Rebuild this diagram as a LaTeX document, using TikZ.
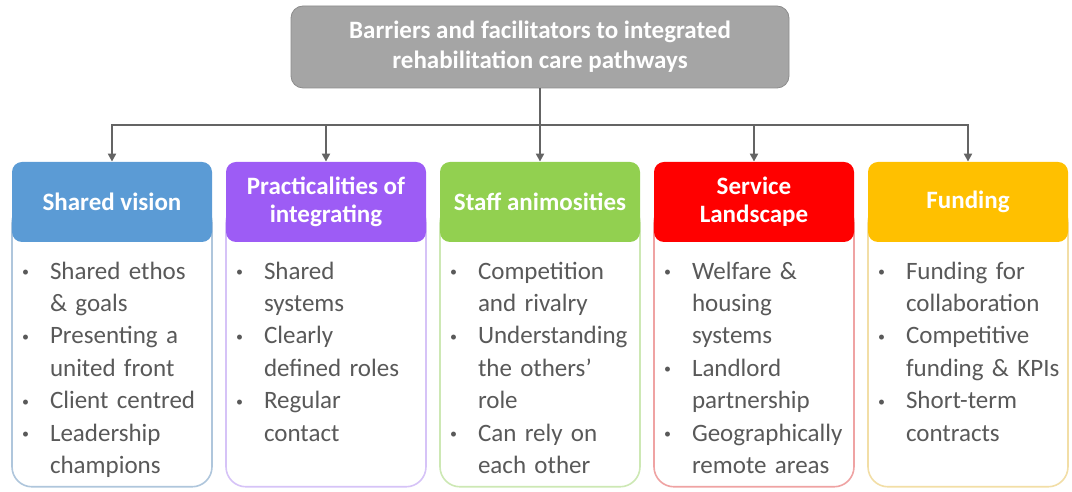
\documentclass[tikz,border=0pt]{standalone}
\usepackage{fontspec}
\setmainfont{Carlito}
\usepackage{xcolor}
\usepackage{tikz}
\usetikzlibrary{arrows.meta, trees, backgrounds}

\definecolor{rootgray}{HTML}{A5A5A5}
\definecolor{rootline}{HTML}{8C8C8C}
\definecolor{linkgray}{HTML}{646464}
\definecolor{txtgray}{HTML}{595959}
\definecolor{visionblue}{HTML}{5B9BD5}
\definecolor{visionline}{HTML}{AFC6DC}
\definecolor{practpurple}{HTML}{9D5CF5}
\definecolor{practline}{HTML}{D6C3F7}
\definecolor{staffgreen}{HTML}{92D050}
\definecolor{staffline}{HTML}{CDE8B4}
\definecolor{servred}{HTML}{FF0000}
\definecolor{servline}{HTML}{EFA3A3}
\definecolor{fundorange}{HTML}{FFC000}
\definecolor{fundline}{HTML}{F2DEA6}

\newcommand{\bpt}[1]{\par\noindent\hangindent=14pt\hangafter=1\makebox[14pt][l]{\raisebox{1.3pt}{\fontsize{7}{7}\selectfont\textbullet}}#1\par}

\begin{document}
\begin{tikzpicture}[
      x=0.5pt, y=0.5pt,
      level distance=77.5pt,
      level 1/.style={sibling distance=107pt},
      edge from parent/.style={draw=linkgray, line width=1pt, -{Triangle[length=4pt, width=4pt]}},
      edge from parent path={(\tikzparentnode.south) -- ++(0,-37) -| (\tikzchildnode.north)},
      title/.style={draw=rootline, fill=rootgray, rounded corners=6pt, minimum width=249pt,
        minimum height=41pt, text=white, align=center, font=\bfseries\fontsize{12.5}{15}\selectfont},
      head/.style={rounded corners=5pt, minimum width=100pt, minimum height=40pt, inner sep=2pt,
        text=white, align=center, font=\bfseries\fontsize{12.5}{14}\selectfont},
      bodybox/.style={fill=white, line width=0.8pt, rounded corners=10pt, minimum width=100pt,
        minimum height=142pt, anchor=north},
      items/.style={text width=95pt, inner sep=0pt, text=txtgray, anchor=north west,
        execute at begin node=\raggedright, font=\fontsize{12.5}{16.2}\selectfont}
    ]
      \useasboundingbox (0,0) rectangle (1072,492);

      \node (top) [title] at (540,445) {Barriers and facilitators to integrated\\rehabilitation care pathways}
        child {node (h1) [head, fill=visionblue] {Shared vision}}
        child {node (h2) [head, fill=practpurple] {Practicalities of\\integrating}}
        child {node (h3) [head, fill=staffgreen] {Staff animosities}}
        child {node (h4) [head, fill=servred] {Service\\Landscape}}
        child {node (h5) [head, fill=fundorange] {Funding}};

      % frames behind the headers
      \begin{scope}[on background layer]
        \node (b1) [bodybox, draw=visionline] at (h1.center) {};
        \node (b2) [bodybox, draw=practline] at (h2.center) {};
        \node (b3) [bodybox, draw=staffline] at (h3.center) {};
        \node (b4) [bodybox, draw=servline] at (h4.center) {};
        \node (b5) [bodybox, draw=fundline] at (h5.center) {};
      \end{scope}

      \node (l1) [items] at ([shift={(5pt,-2pt)}]h1.south west)
        {\bpt{Shared ethos\newline\& goals}\bpt{Presenting a\newline united front}\bpt{Client centred}\bpt{Leadership\newline champions}};
      \node (l2) [items] at ([shift={(5pt,-2pt)}]h2.south west)
        {\bpt{Shared\newline systems}\bpt{Clearly\newline defined roles}\bpt{Regular\newline contact}};
      \node (l3) [items] at ([shift={(5pt,-2pt)}]h3.south west)
        {\bpt{Competition\newline and rivalry}\bpt{Understanding\newline the others'\newline role}\bpt{Can rely on\newline each other}};
      \node (l4) [items] at ([shift={(5pt,-2pt)}]h4.south west)
        {\bpt{Welfare \&\newline housing\newline systems}\bpt{Landlord\newline partnership}\bpt{Geographically\newline remote areas}};
      \node (l5) [items] at ([shift={(5pt,-2pt)}]h5.south west)
        {\bpt{Funding for\newline collaboration}\bpt{Competitive\newline funding \& KPIs}\bpt{Short-term\newline contracts}};
    \end{tikzpicture}
\end{document}
